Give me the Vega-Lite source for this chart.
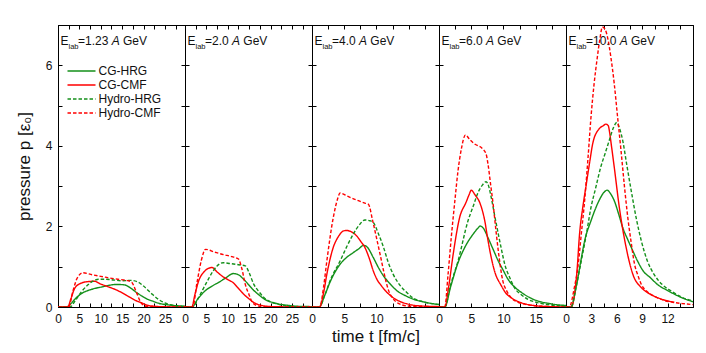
{
"$schema": "https://vega.github.io/schema/vega-lite/v6.json",
"padding": {"left": 14, "top": 24, "right": 5, "bottom": 0},
"background": "white",
"spacing": 0,
"bounds": "flush",
"config": {
  "view": {"stroke": "black", "strokeWidth": 1},
  "font": "Liberation Sans",
  "axis": {"domainColor": "black", "tickColor": "black", "tickSize": -4, "grid": false, "labelFontSize": 12, "labelFont": "Liberation Sans", "labelColor": "#111", "labelFlush": false, "labelOverlap": false, "labelPadding": 10, "titleFont": "Liberation Sans", "titleFontSize": 17, "titleFontWeight": "normal", "titleColor": "#111"}
},
"datasets": {"d": [
{"panel":1,"series":"CG-HRG","t":0,"p":0},{"panel":1,"series":"CG-HRG","t":2,"p":0},{"panel":1,"series":"CG-HRG","t":3,"p":0.08},{"panel":1,"series":"CG-HRG","t":4,"p":0.2},{"panel":1,"series":"CG-HRG","t":5.6,"p":0.34},{"panel":1,"series":"CG-HRG","t":7.9,"p":0.44},{"panel":1,"series":"CG-HRG","t":10.3,"p":0.5},{"panel":1,"series":"CG-HRG","t":12,"p":0.54},{"panel":1,"series":"CG-HRG","t":13.8,"p":0.56},{"panel":1,"series":"CG-HRG","t":15.5,"p":0.55},{"panel":1,"series":"CG-HRG","t":17,"p":0.47},{"panel":1,"series":"CG-HRG","t":18.1,"p":0.38},{"panel":1,"series":"CG-HRG","t":19.5,"p":0.28},{"panel":1,"series":"CG-HRG","t":21,"p":0.19},{"panel":1,"series":"CG-HRG","t":22,"p":0.15},{"panel":1,"series":"CG-HRG","t":24,"p":0.08},{"panel":1,"series":"CG-HRG","t":26,"p":0.05},{"panel":1,"series":"CG-HRG","t":28,"p":0.03},{"panel":1,"series":"CG-HRG","t":29.7,"p":0.02},
{"panel":1,"series":"CG-CMF","t":0,"p":0},{"panel":1,"series":"CG-CMF","t":2.3,"p":0},{"panel":1,"series":"CG-CMF","t":3,"p":0.2},{"panel":1,"series":"CG-CMF","t":4,"p":0.48},{"panel":1,"series":"CG-CMF","t":5.6,"p":0.6},{"panel":1,"series":"CG-CMF","t":7,"p":0.63},{"panel":1,"series":"CG-CMF","t":8.5,"p":0.64},{"panel":1,"series":"CG-CMF","t":10,"p":0.57},{"panel":1,"series":"CG-CMF","t":11.8,"p":0.5},{"panel":1,"series":"CG-CMF","t":13.5,"p":0.43},{"panel":1,"series":"CG-CMF","t":14.5,"p":0.38},{"panel":1,"series":"CG-CMF","t":16.5,"p":0.26},{"panel":1,"series":"CG-CMF","t":18,"p":0.17},{"panel":1,"series":"CG-CMF","t":19.6,"p":0.1},{"panel":1,"series":"CG-CMF","t":21,"p":0.04},{"panel":1,"series":"CG-CMF","t":22.5,"p":0.02},{"panel":1,"series":"CG-CMF","t":25,"p":0.005},{"panel":1,"series":"CG-CMF","t":29.7,"p":0},
{"panel":1,"series":"Hydro-HRG","t":0,"p":0},{"panel":1,"series":"Hydro-HRG","t":2.8,"p":0},{"panel":1,"series":"Hydro-HRG","t":4,"p":0.15},{"panel":1,"series":"Hydro-HRG","t":5.5,"p":0.38},{"panel":1,"series":"Hydro-HRG","t":7,"p":0.55},{"panel":1,"series":"Hydro-HRG","t":8.5,"p":0.66},{"panel":1,"series":"Hydro-HRG","t":9.5,"p":0.69},{"panel":1,"series":"Hydro-HRG","t":11,"p":0.69},{"panel":1,"series":"Hydro-HRG","t":13,"p":0.67},{"panel":1,"series":"Hydro-HRG","t":15,"p":0.65},{"panel":1,"series":"Hydro-HRG","t":17,"p":0.66},{"panel":1,"series":"Hydro-HRG","t":18.5,"p":0.63},{"panel":1,"series":"Hydro-HRG","t":20,"p":0.52},{"panel":1,"series":"Hydro-HRG","t":22,"p":0.32},{"panel":1,"series":"Hydro-HRG","t":23.5,"p":0.19},{"panel":1,"series":"Hydro-HRG","t":25,"p":0.1},{"panel":1,"series":"Hydro-HRG","t":26.5,"p":0.05},{"panel":1,"series":"Hydro-HRG","t":28,"p":0.02},{"panel":1,"series":"Hydro-HRG","t":29.7,"p":0.01},
{"panel":1,"series":"Hydro-CMF","t":0,"p":0},{"panel":1,"series":"Hydro-CMF","t":2.5,"p":0},{"panel":1,"series":"Hydro-CMF","t":3.5,"p":0.4},{"panel":1,"series":"Hydro-CMF","t":4.5,"p":0.72},{"panel":1,"series":"Hydro-CMF","t":5.8,"p":0.85},{"panel":1,"series":"Hydro-CMF","t":8,"p":0.8},{"panel":1,"series":"Hydro-CMF","t":10,"p":0.76},{"panel":1,"series":"Hydro-CMF","t":12,"p":0.72},{"panel":1,"series":"Hydro-CMF","t":14,"p":0.69},{"panel":1,"series":"Hydro-CMF","t":16,"p":0.66},{"panel":1,"series":"Hydro-CMF","t":17.2,"p":0.62},{"panel":1,"series":"Hydro-CMF","t":18.2,"p":0.4},{"panel":1,"series":"Hydro-CMF","t":19.2,"p":0.15},{"panel":1,"series":"Hydro-CMF","t":20,"p":0.04},{"panel":1,"series":"Hydro-CMF","t":21,"p":0.01},{"panel":1,"series":"Hydro-CMF","t":29.7,"p":0},

{"panel":2,"series":"CG-HRG","t":0,"p":0},{"panel":2,"series":"CG-HRG","t":1.6,"p":0},{"panel":2,"series":"CG-HRG","t":3,"p":0.2},{"panel":2,"series":"CG-HRG","t":4.8,"p":0.41},{"panel":2,"series":"CG-HRG","t":6.5,"p":0.53},{"panel":2,"series":"CG-HRG","t":8,"p":0.62},{"panel":2,"series":"CG-HRG","t":9.5,"p":0.72},{"panel":2,"series":"CG-HRG","t":11.3,"p":0.83},{"panel":2,"series":"CG-HRG","t":12.5,"p":0.8},{"panel":2,"series":"CG-HRG","t":13.7,"p":0.69},{"panel":2,"series":"CG-HRG","t":15,"p":0.54},{"panel":2,"series":"CG-HRG","t":16.1,"p":0.41},{"panel":2,"series":"CG-HRG","t":17.3,"p":0.3},{"panel":2,"series":"CG-HRG","t":18.5,"p":0.2},{"panel":2,"series":"CG-HRG","t":20.9,"p":0.1},{"panel":2,"series":"CG-HRG","t":24.2,"p":0.04},{"panel":2,"series":"CG-HRG","t":27,"p":0.015},{"panel":2,"series":"CG-HRG","t":29.7,"p":0.01},
{"panel":2,"series":"CG-CMF","t":0,"p":0},{"panel":2,"series":"CG-CMF","t":1.6,"p":0},{"panel":2,"series":"CG-CMF","t":2.3,"p":0.3},{"panel":2,"series":"CG-CMF","t":3.2,"p":0.65},{"panel":2,"series":"CG-CMF","t":4.5,"p":0.88},{"panel":2,"series":"CG-CMF","t":5.5,"p":0.96},{"panel":2,"series":"CG-CMF","t":6.3,"p":0.98},{"panel":2,"series":"CG-CMF","t":7.5,"p":0.87},{"panel":2,"series":"CG-CMF","t":8.9,"p":0.75},{"panel":2,"series":"CG-CMF","t":10,"p":0.68},{"panel":2,"series":"CG-CMF","t":11.3,"p":0.6},{"panel":2,"series":"CG-CMF","t":12.5,"p":0.46},{"panel":2,"series":"CG-CMF","t":13.7,"p":0.32},{"panel":2,"series":"CG-CMF","t":15,"p":0.2},{"panel":2,"series":"CG-CMF","t":16.1,"p":0.11},{"panel":2,"series":"CG-CMF","t":17.5,"p":0.05},{"panel":2,"series":"CG-CMF","t":19,"p":0.02},{"panel":2,"series":"CG-CMF","t":22,"p":0.005},{"panel":2,"series":"CG-CMF","t":29.7,"p":0},
{"panel":2,"series":"Hydro-HRG","t":0,"p":0},{"panel":2,"series":"Hydro-HRG","t":1.8,"p":0},{"panel":2,"series":"Hydro-HRG","t":3,"p":0.2},{"panel":2,"series":"Hydro-HRG","t":4.8,"p":0.56},{"panel":2,"series":"Hydro-HRG","t":6.5,"p":0.88},{"panel":2,"series":"Hydro-HRG","t":7.5,"p":1.02},{"panel":2,"series":"Hydro-HRG","t":8.9,"p":1.1},{"panel":2,"series":"Hydro-HRG","t":10.5,"p":1.08},{"panel":2,"series":"Hydro-HRG","t":12.5,"p":1.05},{"panel":2,"series":"Hydro-HRG","t":14.1,"p":1.02},{"panel":2,"series":"Hydro-HRG","t":15,"p":0.85},{"panel":2,"series":"Hydro-HRG","t":16.1,"p":0.56},{"panel":2,"series":"Hydro-HRG","t":17.3,"p":0.38},{"panel":2,"series":"Hydro-HRG","t":18.5,"p":0.23},{"panel":2,"series":"Hydro-HRG","t":20,"p":0.13},{"panel":2,"series":"Hydro-HRG","t":21.7,"p":0.07},{"panel":2,"series":"Hydro-HRG","t":23.5,"p":0.03},{"panel":2,"series":"Hydro-HRG","t":25,"p":0.01},{"panel":2,"series":"Hydro-HRG","t":29.7,"p":0},
{"panel":2,"series":"Hydro-CMF","t":0,"p":0},{"panel":2,"series":"Hydro-CMF","t":1.8,"p":0},{"panel":2,"series":"Hydro-CMF","t":2.8,"p":0.6},{"panel":2,"series":"Hydro-CMF","t":3.8,"p":1.15},{"panel":2,"series":"Hydro-CMF","t":4.8,"p":1.43},{"panel":2,"series":"Hydro-CMF","t":7,"p":1.36},{"panel":2,"series":"Hydro-CMF","t":9,"p":1.3},{"panel":2,"series":"Hydro-CMF","t":11,"p":1.25},{"panel":2,"series":"Hydro-CMF","t":12.5,"p":1.19},{"panel":2,"series":"Hydro-CMF","t":13.3,"p":0.95},{"panel":2,"series":"Hydro-CMF","t":14.1,"p":0.56},{"panel":2,"series":"Hydro-CMF","t":15,"p":0.3},{"panel":2,"series":"Hydro-CMF","t":15.7,"p":0.12},{"panel":2,"series":"Hydro-CMF","t":17,"p":0.03},{"panel":2,"series":"Hydro-CMF","t":18.5,"p":0.005},{"panel":2,"series":"Hydro-CMF","t":29.7,"p":0},

{"panel":3,"series":"CG-HRG","t":0,"p":0},{"panel":3,"series":"CG-HRG","t":1.1,"p":0},{"panel":3,"series":"CG-HRG","t":2,"p":0.3},{"panel":3,"series":"CG-HRG","t":2.8,"p":0.62},{"panel":3,"series":"CG-HRG","t":4.35,"p":1.06},{"panel":3,"series":"CG-HRG","t":5.3,"p":1.22},{"panel":3,"series":"CG-HRG","t":6.4,"p":1.35},{"panel":3,"series":"CG-HRG","t":7.3,"p":1.45},{"panel":3,"series":"CG-HRG","t":8,"p":1.53},{"panel":3,"series":"CG-HRG","t":8.6,"p":1.48},{"panel":3,"series":"CG-HRG","t":9.5,"p":1.23},{"panel":3,"series":"CG-HRG","t":10.3,"p":0.98},{"panel":3,"series":"CG-HRG","t":11.1,"p":0.77},{"panel":3,"series":"CG-HRG","t":12.2,"p":0.56},{"panel":3,"series":"CG-HRG","t":13.2,"p":0.4},{"panel":3,"series":"CG-HRG","t":14.5,"p":0.28},{"panel":3,"series":"CG-HRG","t":15.8,"p":0.19},{"panel":3,"series":"CG-HRG","t":17.5,"p":0.12},{"panel":3,"series":"CG-HRG","t":19.7,"p":0.06},
{"panel":3,"series":"CG-CMF","t":0,"p":0},{"panel":3,"series":"CG-CMF","t":1.2,"p":0},{"panel":3,"series":"CG-CMF","t":1.8,"p":0.35},{"panel":3,"series":"CG-CMF","t":2.3,"p":0.81},{"panel":3,"series":"CG-CMF","t":3.3,"p":1.48},{"panel":3,"series":"CG-CMF","t":4.1,"p":1.75},{"panel":3,"series":"CG-CMF","t":4.9,"p":1.89},{"panel":3,"series":"CG-CMF","t":5.4,"p":1.9},{"panel":3,"series":"CG-CMF","t":5.9,"p":1.88},{"panel":3,"series":"CG-CMF","t":6.9,"p":1.77},{"panel":3,"series":"CG-CMF","t":7.6,"p":1.62},{"panel":3,"series":"CG-CMF","t":8.2,"p":1.48},{"panel":3,"series":"CG-CMF","t":8.9,"p":1.2},{"panel":3,"series":"CG-CMF","t":9.5,"p":0.9},{"panel":3,"series":"CG-CMF","t":10.1,"p":0.68},{"panel":3,"series":"CG-CMF","t":10.8,"p":0.52},{"panel":3,"series":"CG-CMF","t":11.7,"p":0.35},{"panel":3,"series":"CG-CMF","t":12.6,"p":0.23},{"panel":3,"series":"CG-CMF","t":13.6,"p":0.14},{"panel":3,"series":"CG-CMF","t":14.7,"p":0.08},{"panel":3,"series":"CG-CMF","t":16.5,"p":0.03},{"panel":3,"series":"CG-CMF","t":19.7,"p":0.01},
{"panel":3,"series":"Hydro-HRG","t":0,"p":0},{"panel":3,"series":"Hydro-HRG","t":1.1,"p":0},{"panel":3,"series":"Hydro-HRG","t":2,"p":0.3},{"panel":3,"series":"Hydro-HRG","t":2.8,"p":0.65},{"panel":3,"series":"Hydro-HRG","t":4.35,"p":1.14},{"panel":3,"series":"Hydro-HRG","t":5.4,"p":1.5},{"panel":3,"series":"Hydro-HRG","t":6.4,"p":1.81},{"panel":3,"series":"Hydro-HRG","t":7.3,"p":2.03},{"panel":3,"series":"Hydro-HRG","t":8.2,"p":2.16},{"panel":3,"series":"Hydro-HRG","t":9,"p":2.14},{"panel":3,"series":"Hydro-HRG","t":9.5,"p":2.1},{"panel":3,"series":"Hydro-HRG","t":10.3,"p":1.82},{"panel":3,"series":"Hydro-HRG","t":11.1,"p":1.48},{"panel":3,"series":"Hydro-HRG","t":11.8,"p":1.12},{"panel":3,"series":"Hydro-HRG","t":12.6,"p":0.81},{"panel":3,"series":"Hydro-HRG","t":13.6,"p":0.55},{"panel":3,"series":"Hydro-HRG","t":14.7,"p":0.36},{"panel":3,"series":"Hydro-HRG","t":15.7,"p":0.22},{"panel":3,"series":"Hydro-HRG","t":16.8,"p":0.15},{"panel":3,"series":"Hydro-HRG","t":18,"p":0.1},{"panel":3,"series":"Hydro-HRG","t":19.7,"p":0.06},
{"panel":3,"series":"Hydro-CMF","t":0,"p":0},{"panel":3,"series":"Hydro-CMF","t":1.2,"p":0},{"panel":3,"series":"Hydro-CMF","t":1.8,"p":0.5},{"panel":3,"series":"Hydro-CMF","t":2.3,"p":1.14},{"panel":3,"series":"Hydro-CMF","t":3.3,"p":2.22},{"panel":3,"series":"Hydro-CMF","t":4,"p":2.7},{"panel":3,"series":"Hydro-CMF","t":4.35,"p":2.83},{"panel":3,"series":"Hydro-CMF","t":5.5,"p":2.75},{"panel":3,"series":"Hydro-CMF","t":7,"p":2.65},{"panel":3,"series":"Hydro-CMF","t":8.2,"p":2.58},{"panel":3,"series":"Hydro-CMF","t":8.75,"p":2.55},{"panel":3,"series":"Hydro-CMF","t":9.4,"p":2.15},{"panel":3,"series":"Hydro-CMF","t":10,"p":1.72},{"panel":3,"series":"Hydro-CMF","t":10.6,"p":1.28},{"panel":3,"series":"Hydro-CMF","t":11.1,"p":0.9},{"panel":3,"series":"Hydro-CMF","t":11.5,"p":0.62},{"panel":3,"series":"Hydro-CMF","t":11.9,"p":0.4},{"panel":3,"series":"Hydro-CMF","t":12.5,"p":0.22},{"panel":3,"series":"Hydro-CMF","t":13.2,"p":0.11},{"panel":3,"series":"Hydro-CMF","t":14,"p":0.05},{"panel":3,"series":"Hydro-CMF","t":15.2,"p":0.02},{"panel":3,"series":"Hydro-CMF","t":19.7,"p":0.005},

{"panel":4,"series":"CG-HRG","t":0,"p":0},{"panel":4,"series":"CG-HRG","t":0.9,"p":0},{"panel":4,"series":"CG-HRG","t":1.8,"p":0.5},{"panel":4,"series":"CG-HRG","t":2.95,"p":1.1},{"panel":4,"series":"CG-HRG","t":4,"p":1.48},{"panel":4,"series":"CG-HRG","t":5.3,"p":1.81},{"panel":4,"series":"CG-HRG","t":6,"p":1.95},{"panel":4,"series":"CG-HRG","t":6.4,"p":2.01},{"panel":4,"series":"CG-HRG","t":6.9,"p":1.95},{"panel":4,"series":"CG-HRG","t":7.6,"p":1.72},{"panel":4,"series":"CG-HRG","t":8.4,"p":1.43},{"panel":4,"series":"CG-HRG","t":9.2,"p":1.14},{"panel":4,"series":"CG-HRG","t":10,"p":0.9},{"panel":4,"series":"CG-HRG","t":10.7,"p":0.69},{"panel":4,"series":"CG-HRG","t":11.7,"p":0.5},{"panel":4,"series":"CG-HRG","t":12.8,"p":0.36},{"panel":4,"series":"CG-HRG","t":14,"p":0.24},{"panel":4,"series":"CG-HRG","t":15.3,"p":0.15},{"panel":4,"series":"CG-HRG","t":17,"p":0.09},{"panel":4,"series":"CG-HRG","t":18.6,"p":0.05},{"panel":4,"series":"CG-HRG","t":19.7,"p":0.04},
{"panel":4,"series":"CG-CMF","t":0,"p":0},{"panel":4,"series":"CG-CMF","t":0.9,"p":0},{"panel":4,"series":"CG-CMF","t":1.5,"p":0.5},{"panel":4,"series":"CG-CMF","t":2.2,"p":1.31},{"panel":4,"series":"CG-CMF","t":3.2,"p":2.22},{"panel":4,"series":"CG-CMF","t":4.2,"p":2.6},{"panel":4,"series":"CG-CMF","t":4.7,"p":2.8},{"panel":4,"series":"CG-CMF","t":5,"p":2.9},{"panel":4,"series":"CG-CMF","t":5.6,"p":2.78},{"panel":4,"series":"CG-CMF","t":6.3,"p":2.6},{"panel":4,"series":"CG-CMF","t":6.8,"p":2.35},{"panel":4,"series":"CG-CMF","t":7.1,"p":2.14},{"panel":4,"series":"CG-CMF","t":7.5,"p":1.75},{"panel":4,"series":"CG-CMF","t":7.9,"p":1.39},{"panel":4,"series":"CG-CMF","t":8.6,"p":0.9},{"panel":4,"series":"CG-CMF","t":9.7,"p":0.52},{"panel":4,"series":"CG-CMF","t":10.3,"p":0.36},{"panel":4,"series":"CG-CMF","t":11.2,"p":0.23},{"panel":4,"series":"CG-CMF","t":12.2,"p":0.14},{"panel":4,"series":"CG-CMF","t":13.3,"p":0.08},{"panel":4,"series":"CG-CMF","t":15,"p":0.03},{"panel":4,"series":"CG-CMF","t":17,"p":0.01},{"panel":4,"series":"CG-CMF","t":19.7,"p":0},
{"panel":4,"series":"Hydro-HRG","t":0,"p":0},{"panel":4,"series":"Hydro-HRG","t":0.9,"p":0},{"panel":4,"series":"Hydro-HRG","t":1.8,"p":0.55},{"panel":4,"series":"Hydro-HRG","t":2.95,"p":1.14},{"panel":4,"series":"Hydro-HRG","t":4.5,"p":2.14},{"panel":4,"series":"Hydro-HRG","t":5.3,"p":2.5},{"panel":4,"series":"Hydro-HRG","t":6.05,"p":2.84},{"panel":4,"series":"Hydro-HRG","t":6.7,"p":3.02},{"panel":4,"series":"Hydro-HRG","t":7.3,"p":3.11},{"panel":4,"series":"Hydro-HRG","t":7.7,"p":3},{"panel":4,"series":"Hydro-HRG","t":8.1,"p":2.72},{"panel":4,"series":"Hydro-HRG","t":8.6,"p":2.3},{"panel":4,"series":"Hydro-HRG","t":9.2,"p":1.81},{"panel":4,"series":"Hydro-HRG","t":9.7,"p":1.42},{"panel":4,"series":"Hydro-HRG","t":10.2,"p":1.06},{"panel":4,"series":"Hydro-HRG","t":11,"p":0.72},{"panel":4,"series":"Hydro-HRG","t":11.7,"p":0.48},{"panel":4,"series":"Hydro-HRG","t":12.8,"p":0.3},{"panel":4,"series":"Hydro-HRG","t":13.8,"p":0.19},{"panel":4,"series":"Hydro-HRG","t":15,"p":0.12},{"panel":4,"series":"Hydro-HRG","t":16.4,"p":0.07},{"panel":4,"series":"Hydro-HRG","t":18,"p":0.04},{"panel":4,"series":"Hydro-HRG","t":19.7,"p":0.02},
{"panel":4,"series":"Hydro-CMF","t":0,"p":0},{"panel":4,"series":"Hydro-CMF","t":0.9,"p":0},{"panel":4,"series":"Hydro-CMF","t":1.4,"p":0.8},{"panel":4,"series":"Hydro-CMF","t":1.9,"p":1.72},{"panel":4,"series":"Hydro-CMF","t":2.5,"p":2.7},{"panel":4,"series":"Hydro-CMF","t":2.95,"p":3.38},{"panel":4,"series":"Hydro-CMF","t":3.5,"p":3.95},{"panel":4,"series":"Hydro-CMF","t":4.1,"p":4.27},{"panel":4,"series":"Hydro-CMF","t":4.8,"p":4.15},{"panel":4,"series":"Hydro-CMF","t":5.5,"p":4.05},{"panel":4,"series":"Hydro-CMF","t":6.8,"p":3.92},{"panel":4,"series":"Hydro-CMF","t":7.3,"p":3.8},{"panel":4,"series":"Hydro-CMF","t":7.6,"p":3.55},{"panel":4,"series":"Hydro-CMF","t":8,"p":3.05},{"panel":4,"series":"Hydro-CMF","t":8.4,"p":2.55},{"panel":4,"series":"Hydro-CMF","t":8.8,"p":1.95},{"panel":4,"series":"Hydro-CMF","t":9.2,"p":1.39},{"panel":4,"series":"Hydro-CMF","t":9.9,"p":0.65},{"panel":4,"series":"Hydro-CMF","t":10.5,"p":0.4},{"panel":4,"series":"Hydro-CMF","t":11.2,"p":0.23},{"panel":4,"series":"Hydro-CMF","t":12.2,"p":0.12},{"panel":4,"series":"Hydro-CMF","t":13.3,"p":0.07},{"panel":4,"series":"Hydro-CMF","t":15,"p":0.03},{"panel":4,"series":"Hydro-CMF","t":17,"p":0.01},{"panel":4,"series":"Hydro-CMF","t":19.7,"p":0},

{"panel":5,"series":"CG-HRG","t":0,"p":0},{"panel":5,"series":"CG-HRG","t":0.6,"p":0},{"panel":5,"series":"CG-HRG","t":1.2,"p":0.5},{"panel":5,"series":"CG-HRG","t":1.8,"p":1.2},{"panel":5,"series":"CG-HRG","t":2.2,"p":1.64},{"panel":5,"series":"CG-HRG","t":2.95,"p":2.14},{"panel":5,"series":"CG-HRG","t":3.9,"p":2.64},{"panel":5,"series":"CG-HRG","t":4.5,"p":2.85},{"panel":5,"series":"CG-HRG","t":4.85,"p":2.9},{"panel":5,"series":"CG-HRG","t":5.3,"p":2.8},{"panel":5,"series":"CG-HRG","t":5.7,"p":2.64},{"panel":5,"series":"CG-HRG","t":6.2,"p":2.32},{"panel":5,"series":"CG-HRG","t":6.7,"p":1.97},{"panel":5,"series":"CG-HRG","t":7.3,"p":1.67},{"panel":5,"series":"CG-HRG","t":7.9,"p":1.39},{"panel":5,"series":"CG-HRG","t":8.5,"p":1.12},{"panel":5,"series":"CG-HRG","t":9.1,"p":0.9},{"panel":5,"series":"CG-HRG","t":10,"p":0.72},{"panel":5,"series":"CG-HRG","t":10.8,"p":0.56},{"panel":5,"series":"CG-HRG","t":11.8,"p":0.43},{"panel":5,"series":"CG-HRG","t":12.8,"p":0.32},{"panel":5,"series":"CG-HRG","t":13.8,"p":0.22},{"panel":5,"series":"CG-HRG","t":15,"p":0.13},
{"panel":5,"series":"CG-CMF","t":0,"p":0},{"panel":5,"series":"CG-CMF","t":0.6,"p":0},{"panel":5,"series":"CG-CMF","t":1,"p":0.3},{"panel":5,"series":"CG-CMF","t":1.3,"p":0.9},{"panel":5,"series":"CG-CMF","t":1.6,"p":1.81},{"panel":5,"series":"CG-CMF","t":2,"p":2.5},{"panel":5,"series":"CG-CMF","t":2.4,"p":3.05},{"panel":5,"series":"CG-CMF","t":2.8,"p":3.6},{"panel":5,"series":"CG-CMF","t":3.15,"p":4.05},{"panel":5,"series":"CG-CMF","t":3.9,"p":4.42},{"panel":5,"series":"CG-CMF","t":4.4,"p":4.5},{"panel":5,"series":"CG-CMF","t":4.7,"p":4.54},{"panel":5,"series":"CG-CMF","t":5,"p":4.5},{"panel":5,"series":"CG-CMF","t":5.1,"p":4.4},{"panel":5,"series":"CG-CMF","t":5.4,"p":3.95},{"panel":5,"series":"CG-CMF","t":5.7,"p":3.47},{"panel":5,"series":"CG-CMF","t":6.3,"p":2.47},{"panel":5,"series":"CG-CMF","t":7.1,"p":1.48},{"panel":5,"series":"CG-CMF","t":7.9,"p":0.81},{"panel":5,"series":"CG-CMF","t":8.9,"p":0.48},{"panel":5,"series":"CG-CMF","t":9.6,"p":0.36},{"panel":5,"series":"CG-CMF","t":10.4,"p":0.27},{"panel":5,"series":"CG-CMF","t":11.5,"p":0.18},{"panel":5,"series":"CG-CMF","t":12.8,"p":0.12},
{"panel":5,"series":"Hydro-HRG","t":0,"p":0},{"panel":5,"series":"Hydro-HRG","t":0.6,"p":0},{"panel":5,"series":"Hydro-HRG","t":1.2,"p":0.5},{"panel":5,"series":"Hydro-HRG","t":1.8,"p":1.14},{"panel":5,"series":"Hydro-HRG","t":2.4,"p":1.8},{"panel":5,"series":"Hydro-HRG","t":2.95,"p":2.47},{"panel":5,"series":"Hydro-HRG","t":3.5,"p":2.95},{"panel":5,"series":"Hydro-HRG","t":4.1,"p":3.47},{"panel":5,"series":"Hydro-HRG","t":4.6,"p":3.8},{"panel":5,"series":"Hydro-HRG","t":5.1,"p":4.13},{"panel":5,"series":"Hydro-HRG","t":5.6,"p":4.45},{"panel":5,"series":"Hydro-HRG","t":6,"p":4.58},{"panel":5,"series":"Hydro-HRG","t":6.3,"p":4.45},{"panel":5,"series":"Hydro-HRG","t":6.7,"p":4.13},{"panel":5,"series":"Hydro-HRG","t":7.2,"p":3.5},{"panel":5,"series":"Hydro-HRG","t":7.7,"p":2.89},{"panel":5,"series":"Hydro-HRG","t":8.3,"p":2.2},{"panel":5,"series":"Hydro-HRG","t":8.9,"p":1.64},{"panel":5,"series":"Hydro-HRG","t":9.6,"p":1.15},{"panel":5,"series":"Hydro-HRG","t":10.4,"p":0.81},{"panel":5,"series":"Hydro-HRG","t":11.4,"p":0.55},{"panel":5,"series":"Hydro-HRG","t":12.4,"p":0.4},{"panel":5,"series":"Hydro-HRG","t":13.6,"p":0.25},{"panel":5,"series":"Hydro-HRG","t":15,"p":0.15},
{"panel":5,"series":"Hydro-CMF","t":0,"p":0},{"panel":5,"series":"Hydro-CMF","t":0.4,"p":0},{"panel":5,"series":"Hydro-CMF","t":1,"p":0.5},{"panel":5,"series":"Hydro-CMF","t":1.4,"p":0.98},{"panel":5,"series":"Hydro-CMF","t":1.8,"p":1.8},{"panel":5,"series":"Hydro-CMF","t":2.2,"p":2.64},{"panel":5,"series":"Hydro-CMF","t":2.6,"p":3.7},{"panel":5,"series":"Hydro-CMF","t":2.95,"p":4.71},{"panel":5,"series":"Hydro-CMF","t":3.3,"p":5.5},{"panel":5,"series":"Hydro-CMF","t":3.7,"p":6.2},{"panel":5,"series":"Hydro-CMF","t":4,"p":6.65},{"panel":5,"series":"Hydro-CMF","t":4.3,"p":6.95},{"panel":5,"series":"Hydro-CMF","t":4.6,"p":6.9},{"panel":5,"series":"Hydro-CMF","t":4.9,"p":6.7},{"panel":5,"series":"Hydro-CMF","t":5.3,"p":6.2},{"panel":5,"series":"Hydro-CMF","t":5.7,"p":5.54},{"panel":5,"series":"Hydro-CMF","t":6.1,"p":4.7},{"panel":5,"series":"Hydro-CMF","t":6.5,"p":3.88},{"panel":5,"series":"Hydro-CMF","t":6.9,"p":3},{"panel":5,"series":"Hydro-CMF","t":7.3,"p":2.22},{"panel":5,"series":"Hydro-CMF","t":7.7,"p":1.6},{"panel":5,"series":"Hydro-CMF","t":8.1,"p":1.06},{"panel":5,"series":"Hydro-CMF","t":8.5,"p":0.78},{"panel":5,"series":"Hydro-CMF","t":8.9,"p":0.56},{"panel":5,"series":"Hydro-CMF","t":9.6,"p":0.38},{"panel":5,"series":"Hydro-CMF","t":10.4,"p":0.27},{"panel":5,"series":"Hydro-CMF","t":11.5,"p":0.17},{"panel":5,"series":"Hydro-CMF","t":12.8,"p":0.11},{"panel":5,"series":"Hydro-CMF","t":14,"p":0.08},{"panel":5,"series":"Hydro-CMF","t":15,"p":0.06}
]},
"data": {"name": "d"},
"hconcat": [
{
 "width": 127, "height": 282,
 "layer": [
  {"transform": [{"filter": "datum.panel == 1"}],
   "mark": {"type": "line", "strokeWidth": 1.4, "clip": true, "interpolate": "monotone"},
   "encoding": {
    "x": {"field": "t", "type": "quantitative", "scale": {"domain": [0, 29.7], "nice": false, "zero": false}, "axis": {"orient": "bottom", "values": [0,2.5,5,7.5,10,12.5,15,17.5,20,22.5,25,27.5], "labelExpr": "datum.value % 5 == 0 ? datum.label : ''", "title": null}},
    "y": {"field": "p", "type": "quantitative", "scale": {"domain": [0, 7], "nice": false}, "axis": {"orient": "left", "values": [0,1,2,3,4,5,6], "labelExpr": "datum.value % 2 == 0 ? datum.label : ''", "title": "pressure p [ε₀]", "titlePadding": 12}},
    "color": {"field": "series", "type": "nominal", "scale": {"domain": ["CG-HRG","CG-CMF","Hydro-HRG","Hydro-CMF"], "range": ["#14901a","#ff0000","#14901a","#ff0000"]}, "legend": {"title": null, "orient": "none", "legendX": 17.5, "legendY": 40, "padding": 0, "symbolType": "M-4,0H4", "symbolSize": 49, "symbolStrokeWidth": 1.5, "labelOffset": 11, "labelFontSize": 12, "labelFont": "Liberation Sans", "labelColor": "#111", "rowPadding": 2}},
    "strokeDash": {"field": "series", "type": "nominal", "scale": {"domain": ["CG-HRG","CG-CMF","Hydro-HRG","Hydro-CMF"], "range": [[1,0],[1,0],[3.5,2],[3.5,2]]}, "legend": {"title": null, "orient": "none", "legendX": 17.5, "legendY": 40, "padding": 0, "symbolType": "M-4,0H4", "symbolSize": 49, "symbolStrokeWidth": 1.5, "labelOffset": 11, "labelFontSize": 12, "labelFont": "Liberation Sans", "labelColor": "#111", "rowPadding": 2}}
   }},
  {"transform": [{"filter": "datum.panel == 1"}],
   "mark": {"type": "line", "opacity": 0, "strokeWidth": 0},
   "encoding": {
    "x": {"field": "t", "type": "quantitative", "axis": {"orient": "top", "values": [0,2.5,5,7.5,10,12.5,15,17.5,20,22.5,25,27.5], "labels": false, "title": null}},
    "y": {"field": "p", "type": "quantitative", "axis": {"orient": "right", "values": [0,1,2,3,4,5,6], "labels": false, "title": null}}
   }},
  {"data": {"values": [{}]}, "mark": {"type": "text", "text": "E", "align": "left", "baseline": "alphabetic", "dx": 2.5, "dy": 20, "fontSize": 12, "font": "Liberation Sans", "color": "#111"}, "encoding": {"x": {"datum": 0, "axis": null}, "y": {"datum": 7, "axis": null}}},
  {"data": {"values": [{}]}, "mark": {"type": "text", "text": "lab", "align": "left", "baseline": "alphabetic", "dx": 10.5, "dy": 24, "fontSize": 7.5, "font": "Liberation Sans", "color": "#111"}, "encoding": {"x": {"datum": 0, "axis": null}, "y": {"datum": 7, "axis": null}}},
  {"data": {"values": [{}]}, "mark": {"type": "text", "text": "=1.23", "align": "left", "baseline": "alphabetic", "dx": 20, "dy": 20, "fontSize": 12, "font": "Liberation Sans", "color": "#111"}, "encoding": {"x": {"datum": 0, "axis": null}, "y": {"datum": 7, "axis": null}}},
  {"data": {"values": [{}]}, "mark": {"type": "text", "text": "A", "align": "left", "baseline": "alphabetic", "dx": 53.8, "dy": 20, "fontSize": 12, "fontStyle": "italic", "font": "Liberation Sans", "color": "#111"}, "encoding": {"x": {"datum": 0, "axis": null}, "y": {"datum": 7, "axis": null}}},
  {"data": {"values": [{}]}, "mark": {"type": "text", "text": "GeV", "align": "left", "baseline": "alphabetic", "dx": 65, "dy": 20, "fontSize": 12, "font": "Liberation Sans", "color": "#111"}, "encoding": {"x": {"datum": 0, "axis": null}, "y": {"datum": 7, "axis": null}}}
 ],
 "resolve": {"axis": {"x": "independent", "y": "independent"}}
},
{
 "width": 127, "height": 282,
 "layer": [
  {"transform": [{"filter": "datum.panel == 2"}],
   "mark": {"type": "line", "strokeWidth": 1.4, "clip": true, "interpolate": "monotone"},
   "encoding": {
    "x": {"field": "t", "type": "quantitative", "scale": {"domain": [0, 29.7], "nice": false, "zero": false}, "axis": {"orient": "bottom", "values": [0,2.5,5,7.5,10,12.5,15,17.5,20,22.5,25,27.5], "labelExpr": "datum.value % 5 == 0 ? datum.label : ''", "title": null}},
    "y": {"field": "p", "type": "quantitative", "scale": {"domain": [0, 7], "nice": false}, "axis": {"orient": "left", "values": [0,1,2,3,4,5,6], "labels": false, "title": null}},
    "color": {"field": "series", "type": "nominal", "scale": {"domain": ["CG-HRG","CG-CMF","Hydro-HRG","Hydro-CMF"], "range": ["#14901a","#ff0000","#14901a","#ff0000"]}, "legend": null},
    "strokeDash": {"field": "series", "type": "nominal", "scale": {"domain": ["CG-HRG","CG-CMF","Hydro-HRG","Hydro-CMF"], "range": [[1,0],[1,0],[3.5,2],[3.5,2]]}, "legend": null}
   }},
  {"transform": [{"filter": "datum.panel == 2"}],
   "mark": {"type": "line", "opacity": 0, "strokeWidth": 0},
   "encoding": {
    "x": {"field": "t", "type": "quantitative", "axis": {"orient": "top", "values": [0,2.5,5,7.5,10,12.5,15,17.5,20,22.5,25,27.5], "labels": false, "title": null}},
    "y": {"field": "p", "type": "quantitative", "axis": {"orient": "right", "values": [0,1,2,3,4,5,6], "labels": false, "title": null}}
   }},
  {"data": {"values": [{}]}, "mark": {"type": "text", "text": "E", "align": "left", "baseline": "alphabetic", "dx": 2.5, "dy": 20, "fontSize": 12, "font": "Liberation Sans", "color": "#111"}, "encoding": {"x": {"datum": 0, "axis": null}, "y": {"datum": 7, "axis": null}}},
  {"data": {"values": [{}]}, "mark": {"type": "text", "text": "lab", "align": "left", "baseline": "alphabetic", "dx": 10.5, "dy": 24, "fontSize": 7.5, "font": "Liberation Sans", "color": "#111"}, "encoding": {"x": {"datum": 0, "axis": null}, "y": {"datum": 7, "axis": null}}},
  {"data": {"values": [{}]}, "mark": {"type": "text", "text": "=2.0", "align": "left", "baseline": "alphabetic", "dx": 20, "dy": 20, "fontSize": 12, "font": "Liberation Sans", "color": "#111"}, "encoding": {"x": {"datum": 0, "axis": null}, "y": {"datum": 7, "axis": null}}},
  {"data": {"values": [{}]}, "mark": {"type": "text", "text": "A", "align": "left", "baseline": "alphabetic", "dx": 47, "dy": 20, "fontSize": 12, "fontStyle": "italic", "font": "Liberation Sans", "color": "#111"}, "encoding": {"x": {"datum": 0, "axis": null}, "y": {"datum": 7, "axis": null}}},
  {"data": {"values": [{}]}, "mark": {"type": "text", "text": "GeV", "align": "left", "baseline": "alphabetic", "dx": 58.3, "dy": 20, "fontSize": 12, "font": "Liberation Sans", "color": "#111"}, "encoding": {"x": {"datum": 0, "axis": null}, "y": {"datum": 7, "axis": null}}}
 ],
 "resolve": {"axis": {"x": "independent", "y": "independent"}}
},
{
 "width": 127, "height": 282,
 "layer": [
  {"transform": [{"filter": "datum.panel == 3"}],
   "mark": {"type": "line", "strokeWidth": 1.4, "clip": true, "interpolate": "monotone"},
   "encoding": {
    "x": {"field": "t", "type": "quantitative", "scale": {"domain": [0, 19.7], "nice": false, "zero": false}, "axis": {"orient": "bottom", "values": [0,2.5,5,7.5,10,12.5,15,17.5], "labelExpr": "datum.value % 5 == 0 ? datum.label : ''", "title": "time t [fm/c]", "titlePadding": 4}},
    "y": {"field": "p", "type": "quantitative", "scale": {"domain": [0, 7], "nice": false}, "axis": {"orient": "left", "values": [0,1,2,3,4,5,6], "labels": false, "title": null}},
    "color": {"field": "series", "type": "nominal", "scale": {"domain": ["CG-HRG","CG-CMF","Hydro-HRG","Hydro-CMF"], "range": ["#14901a","#ff0000","#14901a","#ff0000"]}, "legend": null},
    "strokeDash": {"field": "series", "type": "nominal", "scale": {"domain": ["CG-HRG","CG-CMF","Hydro-HRG","Hydro-CMF"], "range": [[1,0],[1,0],[3.5,2],[3.5,2]]}, "legend": null}
   }},
  {"transform": [{"filter": "datum.panel == 3"}],
   "mark": {"type": "line", "opacity": 0, "strokeWidth": 0},
   "encoding": {
    "x": {"field": "t", "type": "quantitative", "axis": {"orient": "top", "values": [0,2.5,5,7.5,10,12.5,15,17.5], "labels": false, "title": null}},
    "y": {"field": "p", "type": "quantitative", "axis": {"orient": "right", "values": [0,1,2,3,4,5,6], "labels": false, "title": null}}
   }},
  {"data": {"values": [{}]}, "mark": {"type": "text", "text": "E", "align": "left", "baseline": "alphabetic", "dx": 2.5, "dy": 20, "fontSize": 12, "font": "Liberation Sans", "color": "#111"}, "encoding": {"x": {"datum": 0, "axis": null}, "y": {"datum": 7, "axis": null}}},
  {"data": {"values": [{}]}, "mark": {"type": "text", "text": "lab", "align": "left", "baseline": "alphabetic", "dx": 10.5, "dy": 24, "fontSize": 7.5, "font": "Liberation Sans", "color": "#111"}, "encoding": {"x": {"datum": 0, "axis": null}, "y": {"datum": 7, "axis": null}}},
  {"data": {"values": [{}]}, "mark": {"type": "text", "text": "=4.0", "align": "left", "baseline": "alphabetic", "dx": 20, "dy": 20, "fontSize": 12, "font": "Liberation Sans", "color": "#111"}, "encoding": {"x": {"datum": 0, "axis": null}, "y": {"datum": 7, "axis": null}}},
  {"data": {"values": [{}]}, "mark": {"type": "text", "text": "A", "align": "left", "baseline": "alphabetic", "dx": 47, "dy": 20, "fontSize": 12, "fontStyle": "italic", "font": "Liberation Sans", "color": "#111"}, "encoding": {"x": {"datum": 0, "axis": null}, "y": {"datum": 7, "axis": null}}},
  {"data": {"values": [{}]}, "mark": {"type": "text", "text": "GeV", "align": "left", "baseline": "alphabetic", "dx": 58.3, "dy": 20, "fontSize": 12, "font": "Liberation Sans", "color": "#111"}, "encoding": {"x": {"datum": 0, "axis": null}, "y": {"datum": 7, "axis": null}}}
 ],
 "resolve": {"axis": {"x": "independent", "y": "independent"}}
},
{
 "width": 127, "height": 282,
 "layer": [
  {"transform": [{"filter": "datum.panel == 4"}],
   "mark": {"type": "line", "strokeWidth": 1.4, "clip": true, "interpolate": "monotone"},
   "encoding": {
    "x": {"field": "t", "type": "quantitative", "scale": {"domain": [0, 19.7], "nice": false, "zero": false}, "axis": {"orient": "bottom", "values": [0,2.5,5,7.5,10,12.5,15,17.5], "labelExpr": "datum.value % 5 == 0 ? datum.label : ''", "title": null}},
    "y": {"field": "p", "type": "quantitative", "scale": {"domain": [0, 7], "nice": false}, "axis": {"orient": "left", "values": [0,1,2,3,4,5,6], "labels": false, "title": null}},
    "color": {"field": "series", "type": "nominal", "scale": {"domain": ["CG-HRG","CG-CMF","Hydro-HRG","Hydro-CMF"], "range": ["#14901a","#ff0000","#14901a","#ff0000"]}, "legend": null},
    "strokeDash": {"field": "series", "type": "nominal", "scale": {"domain": ["CG-HRG","CG-CMF","Hydro-HRG","Hydro-CMF"], "range": [[1,0],[1,0],[3.5,2],[3.5,2]]}, "legend": null}
   }},
  {"transform": [{"filter": "datum.panel == 4"}],
   "mark": {"type": "line", "opacity": 0, "strokeWidth": 0},
   "encoding": {
    "x": {"field": "t", "type": "quantitative", "axis": {"orient": "top", "values": [0,2.5,5,7.5,10,12.5,15,17.5], "labels": false, "title": null}},
    "y": {"field": "p", "type": "quantitative", "axis": {"orient": "right", "values": [0,1,2,3,4,5,6], "labels": false, "title": null}}
   }},
  {"data": {"values": [{}]}, "mark": {"type": "text", "text": "E", "align": "left", "baseline": "alphabetic", "dx": 2.5, "dy": 20, "fontSize": 12, "font": "Liberation Sans", "color": "#111"}, "encoding": {"x": {"datum": 0, "axis": null}, "y": {"datum": 7, "axis": null}}},
  {"data": {"values": [{}]}, "mark": {"type": "text", "text": "lab", "align": "left", "baseline": "alphabetic", "dx": 10.5, "dy": 24, "fontSize": 7.5, "font": "Liberation Sans", "color": "#111"}, "encoding": {"x": {"datum": 0, "axis": null}, "y": {"datum": 7, "axis": null}}},
  {"data": {"values": [{}]}, "mark": {"type": "text", "text": "=6.0", "align": "left", "baseline": "alphabetic", "dx": 20, "dy": 20, "fontSize": 12, "font": "Liberation Sans", "color": "#111"}, "encoding": {"x": {"datum": 0, "axis": null}, "y": {"datum": 7, "axis": null}}},
  {"data": {"values": [{}]}, "mark": {"type": "text", "text": "A", "align": "left", "baseline": "alphabetic", "dx": 47, "dy": 20, "fontSize": 12, "fontStyle": "italic", "font": "Liberation Sans", "color": "#111"}, "encoding": {"x": {"datum": 0, "axis": null}, "y": {"datum": 7, "axis": null}}},
  {"data": {"values": [{}]}, "mark": {"type": "text", "text": "GeV", "align": "left", "baseline": "alphabetic", "dx": 58.3, "dy": 20, "fontSize": 12, "font": "Liberation Sans", "color": "#111"}, "encoding": {"x": {"datum": 0, "axis": null}, "y": {"datum": 7, "axis": null}}}
 ],
 "resolve": {"axis": {"x": "independent", "y": "independent"}}
},
{
 "width": 127, "height": 282,
 "layer": [
  {"transform": [{"filter": "datum.panel == 5"}],
   "mark": {"type": "line", "strokeWidth": 1.4, "clip": true, "interpolate": "monotone"},
   "encoding": {
    "x": {"field": "t", "type": "quantitative", "scale": {"domain": [0, 15], "nice": false, "zero": false}, "axis": {"orient": "bottom", "values": [0,1.5,3,4.5,6,7.5,9,10.5,12,13.5], "labelExpr": "datum.value % 3 == 0 ? datum.label : ''", "title": null}},
    "y": {"field": "p", "type": "quantitative", "scale": {"domain": [0, 7], "nice": false}, "axis": {"orient": "left", "values": [0,1,2,3,4,5,6], "labels": false, "title": null}},
    "color": {"field": "series", "type": "nominal", "scale": {"domain": ["CG-HRG","CG-CMF","Hydro-HRG","Hydro-CMF"], "range": ["#14901a","#ff0000","#14901a","#ff0000"]}, "legend": null},
    "strokeDash": {"field": "series", "type": "nominal", "scale": {"domain": ["CG-HRG","CG-CMF","Hydro-HRG","Hydro-CMF"], "range": [[1,0],[1,0],[3.5,2],[3.5,2]]}, "legend": null}
   }},
  {"transform": [{"filter": "datum.panel == 5"}],
   "mark": {"type": "line", "opacity": 0, "strokeWidth": 0},
   "encoding": {
    "x": {"field": "t", "type": "quantitative", "axis": {"orient": "top", "values": [0,1.5,3,4.5,6,7.5,9,10.5,12,13.5], "labels": false, "title": null}},
    "y": {"field": "p", "type": "quantitative", "axis": {"orient": "right", "values": [0,1,2,3,4,5,6], "labels": false, "title": null}}
   }},
  {"data": {"values": [{}]}, "mark": {"type": "text", "text": "E", "align": "left", "baseline": "alphabetic", "dx": 2.5, "dy": 20, "fontSize": 12, "font": "Liberation Sans", "color": "#111"}, "encoding": {"x": {"datum": 0, "axis": null}, "y": {"datum": 7, "axis": null}}},
  {"data": {"values": [{}]}, "mark": {"type": "text", "text": "lab", "align": "left", "baseline": "alphabetic", "dx": 10.5, "dy": 24, "fontSize": 7.5, "font": "Liberation Sans", "color": "#111"}, "encoding": {"x": {"datum": 0, "axis": null}, "y": {"datum": 7, "axis": null}}},
  {"data": {"values": [{}]}, "mark": {"type": "text", "text": "=10.0", "align": "left", "baseline": "alphabetic", "dx": 20, "dy": 20, "fontSize": 12, "font": "Liberation Sans", "color": "#111"}, "encoding": {"x": {"datum": 0, "axis": null}, "y": {"datum": 7, "axis": null}}},
  {"data": {"values": [{}]}, "mark": {"type": "text", "text": "A", "align": "left", "baseline": "alphabetic", "dx": 53.8, "dy": 20, "fontSize": 12, "fontStyle": "italic", "font": "Liberation Sans", "color": "#111"}, "encoding": {"x": {"datum": 0, "axis": null}, "y": {"datum": 7, "axis": null}}},
  {"data": {"values": [{}]}, "mark": {"type": "text", "text": "GeV", "align": "left", "baseline": "alphabetic", "dx": 65, "dy": 20, "fontSize": 12, "font": "Liberation Sans", "color": "#111"}, "encoding": {"x": {"datum": 0, "axis": null}, "y": {"datum": 7, "axis": null}}}
 ],
 "resolve": {"axis": {"x": "independent", "y": "independent"}}
}
]
}
